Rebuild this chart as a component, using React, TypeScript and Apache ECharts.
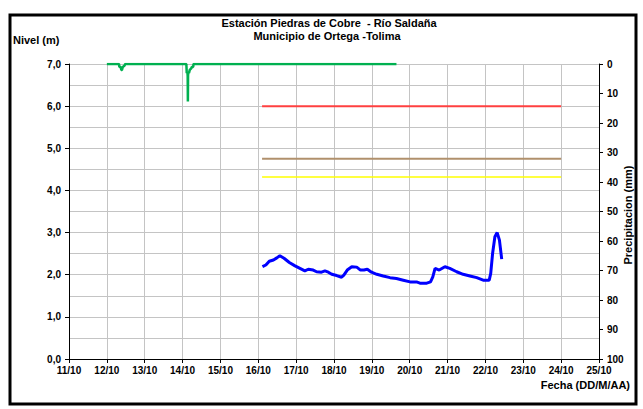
import React, { useEffect, useRef } from "react";
import * as echarts from "echarts";

const levelDays = [16.11, 16.2, 16.29, 16.4, 16.49, 16.57, 16.68, 16.82, 16.97, 17.1, 17.23, 17.32, 17.45, 17.54, 17.67, 17.76, 17.85, 17.94, 18.07, 18.2, 18.26, 18.35, 18.47, 18.6, 18.7, 18.79, 18.88, 18.99, 19.13, 19.3, 19.48, 19.65, 19.83, 20.01, 20.18, 20.27, 20.45, 20.55, 20.61, 20.67, 20.78, 20.93, 21.06, 21.24, 21.41, 21.59, 21.77, 21.94, 22.1, 22.14, 22.19, 22.25, 22.31, 22.37, 22.43];
const levelValues = [2.19, 2.23, 2.32, 2.35, 2.4, 2.45, 2.39, 2.29, 2.21, 2.15, 2.09, 2.13, 2.11, 2.07, 2.06, 2.09, 2.06, 2.01, 1.98, 1.94, 1.99, 2.11, 2.19, 2.18, 2.11, 2.11, 2.13, 2.06, 2.01, 1.97, 1.93, 1.91, 1.87, 1.83, 1.83, 1.8, 1.8, 1.83, 1.95, 2.15, 2.11, 2.19, 2.15, 2.07, 2.01, 1.97, 1.93, 1.87, 1.87, 2.03, 2.51, 2.9, 3.0, 2.82, 2.37];

const precipDays = [12.0, 12.32, 12.33, 12.37, 12.38, 12.4, 12.42, 12.43, 12.47, 12.48, 14.1, 14.11, 14.13, 14.135, 14.14, 14.145, 14.15, 14.17, 14.19, 14.2, 14.23, 14.24, 14.28, 14.29, 19.65];
const precipValues = [0, 0, 1, 1, 2, 2, 1, 1, 0.5, 0, 0, 3, 3, 4, 12.7, 4, 3, 3, 2, 2, 1.5, 1, 1, 0, 0];

const thresholdStart = 16.1;
const thresholdEnd = 24;
const thresholdRed = 6.0;
const thresholdBrown = 4.75;
const thresholdYellow = 4.32;

const dayMin = 11;
const dayMax = 25;

const FONT = "'Liberation Sans', Arial, sans-serif";

export default function App() {
  const ref = useRef<HTMLDivElement>(null);
  useEffect(() => {
    if (!ref.current) return;
    const chart = echarts.init(ref.current, null, { renderer: "svg" });
    const pair = (xs: number[], ys: number[]) => xs.map((x, i) => [x, ys[i]]);
    chart.setOption({
      animation: false,
      backgroundColor: "#ffffff",
      textStyle: { fontFamily: FONT },
      grid: { left: 69, top: 64, right: 44, bottom: 50 },
      graphic: [
        { type: "rect", shape: { x: 10, y: 15, width: 626, height: 389 }, style: { fill: "none", stroke: "#000", lineWidth: 3 }, z: -1 },
        { type: "text", x: 329, y: 23, style: { text: "Estación Piedras de Cobre  - Río Saldaña", font: `bold 11px ${FONT}`, fill: "#000", align: "center", verticalAlign: "middle" } },
        { type: "text", x: 327, y: 36, style: { text: "Municipio de Ortega -Tolima", font: `bold 11px ${FONT}`, fill: "#000", align: "center", verticalAlign: "middle" } },
        { type: "text", x: 13, y: 40, style: { text: "Nivel (m)", font: `bold 11px ${FONT}`, fill: "#000", align: "left", verticalAlign: "middle" } },
        { type: "text", x: 630, y: 385, style: { text: "Fecha (DD/M/AA)", font: `bold 11px ${FONT}`, fill: "#000", align: "right", verticalAlign: "middle" } },
        { type: "text", x: 628, y: 215, rotation: Math.PI / 2, style: { text: "Precipitacion (mm)", font: `bold 11px ${FONT}`, fill: "#000", align: "center", verticalAlign: "middle" } },
      ],
      xAxis: {
        type: "value",
        min: dayMin,
        max: dayMax,
        interval: 1,
        axisLine: { show: true, onZero: false, lineStyle: { color: "#000", width: 1 } },
        axisTick: { show: true, length: 4, lineStyle: { color: "#000" } },
        axisLabel: { formatter: (v: number) => `${v}/10`, color: "#000", fontWeight: "bold", fontSize: 10, fontFamily: FONT, margin: 6 },
        splitLine: { show: true, lineStyle: { color: "#c4c4c4", width: 1 } },
      },
      yAxis: [
        {
          type: "value",
          min: 0,
          max: 7,
          interval: 1,
          position: "left",
          axisLine: { show: true, lineStyle: { color: "#000", width: 1 } },
          axisTick: { show: true, length: 4, lineStyle: { color: "#000" } },
          axisLabel: { formatter: (v: number) => v.toFixed(1).replace(".", ","), color: "#000", fontWeight: "bold", fontSize: 10, fontFamily: FONT, margin: 8 },
          splitLine: { show: true, lineStyle: { color: "#c4c4c4", width: 1 } },
          minorTick: { show: false, splitNumber: 2 },
          minorSplitLine: { show: true, lineStyle: { color: "#c4c4c4", width: 1 } },
        },
        {
          type: "value",
          min: 0,
          max: 100,
          interval: 10,
          inverse: true,
          position: "right",
          axisLine: { show: true, lineStyle: { color: "#000", width: 1 } },
          axisTick: { show: true, length: 4, lineStyle: { color: "#000" } },
          axisLabel: { color: "#000", fontWeight: "bold", fontSize: 10, fontFamily: FONT, margin: 8 },
          splitLine: { show: false },
        },
      ],
      series: [
        {
          type: "line",
          yAxisIndex: 1,
          data: pair(precipDays, precipValues),
          symbol: "none",
          lineStyle: { color: "#00b050", width: 2.5 },
          z: 3,
        },
        {
          type: "line",
          data: [[thresholdStart, thresholdRed], [thresholdEnd, thresholdRed]],
          symbol: "none",
          lineStyle: { color: "#ff4040", width: 2 },
        },
        {
          type: "line",
          data: [[thresholdStart, thresholdBrown], [thresholdEnd, thresholdBrown]],
          symbol: "none",
          lineStyle: { color: "#b0906c", width: 2 },
        },
        {
          type: "line",
          data: [[thresholdStart, thresholdYellow], [thresholdEnd, thresholdYellow]],
          symbol: "none",
          lineStyle: { color: "#ffff00", width: 1.5 },
        },
        {
          type: "line",
          data: pair(levelDays, levelValues),
          symbol: "none",
          lineStyle: { color: "#0000ff", width: 3 },
          z: 4,
        },
      ],
    });
    return () => chart.dispose();
  }, []);
  return <div ref={ref} style={{ position: "fixed", left: 0, top: 0, width: 643, height: 409 }} />;
}
